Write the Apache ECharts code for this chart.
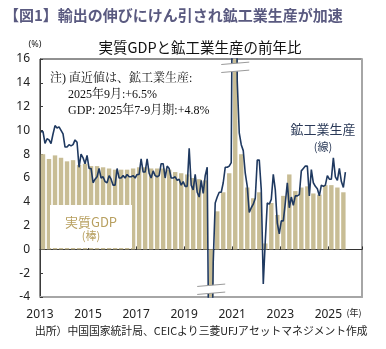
<!DOCTYPE html>
<html>
<head>
<meta charset="utf-8">
<script src="https://cdn.jsdelivr.net/npm/echarts@6/dist/echarts.min.js"></script>
<style>
html,body{margin:0;padding:0;background:#fff;}
#c{width:386px;height:349px;}
</style>
</head>
<body>
<div id="c"></div>
<script>
// Years on the axis (offset from 2013)
var startYear = 2013;
var yearLabels = ['2013','2015','2017','2019','2021','2023','2025'];
var yTicks = [-4,-2,0,2,4,6,8,10,12,14,16];

// Real GDP YoY (%), quarterly 2013Q1 - 2025Q3
var gdpQuarterly = [
  8.0,7.6,7.9,7.7,
  7.4,7.5,7.1,7.2,
  7.0,7.0,6.9,6.8,
  6.7,6.7,6.7,6.8,
  6.9,6.9,6.8,6.8,
  6.8,6.7,6.5,6.4,
  6.3,6.0,5.9,5.8,
  -6.8,3.2,4.8,6.4,
  18.3,8.0,5.2,4.3,
  4.8,0.5,3.9,2.9,
  4.5,6.3,4.9,5.2,
  5.3,4.7,4.6,5.4,
  5.4,5.2,4.8
];

// Industrial production YoY (%), monthly Jan 2013 - Sep 2025
var ipMonthly = [
  9.9,9.9,8.9,9.3,9.2,8.9,9.7,10.4,10.2,10.3,10.0,9.7,
  8.6,8.6,8.8,8.7,8.8,9.2,9.0,6.9,8.0,7.7,7.2,7.9,
  6.8,6.8,5.6,5.9,6.1,6.8,6.0,6.1,5.7,5.6,6.2,5.9,
  5.4,5.4,6.8,6.0,6.0,6.2,6.0,6.3,6.1,6.1,6.2,6.0,
  6.3,6.3,7.6,6.5,6.5,7.6,6.4,6.0,6.6,6.2,6.1,6.2,
  7.2,7.2,6.0,7.0,6.8,6.0,6.0,6.1,5.8,5.9,5.4,5.7,
  5.3,5.3,8.5,5.4,5.0,6.3,4.8,4.4,5.8,4.7,6.2,6.9,
  -13.5,-13.5,-1.1,3.9,4.4,4.8,4.8,5.6,6.9,6.9,7.0,7.3,
  35.1,35.1,14.1,9.8,8.8,8.3,6.4,5.3,3.1,3.5,3.8,4.3,
  7.5,7.5,5.0,-2.9,0.7,3.9,3.8,4.2,6.3,5.0,2.2,1.3,
  2.4,2.4,3.9,5.6,3.5,4.4,3.7,4.5,4.5,4.6,6.6,6.8,
  7.0,7.0,4.5,6.7,5.6,5.3,5.1,4.5,5.4,5.3,5.4,6.2,
  5.9,5.9,7.7,6.1,5.8,6.8,5.7,5.2,6.5
];

// Axis-break markers (quarter index, value where the break sits)
var breakQuarters = [32, 28];
var breakValues = [15.3, -3.35];

var gdpData = gdpQuarterly.map(function(v,i){ return [(i+0.5)/4, v]; });
var ipData = ipMonthly.map(function(v,i){ return [(i+0.5)/12, v]; });
var breakData = breakQuarters.map(function(q,i){ return [(q+0.5)/4, breakValues[i]]; });

var xMin = 0, xMax = 13.4;
function xLabel(v){
  var k = Math.round(v);
  if (Math.abs(v-k) > 1e-6 || k % 2 !== 0) return '';
  return yearLabels[k/2] || '';
}

var chart = echarts.init(document.getElementById('c'), null, {renderer:'canvas'});
var cjk = "'Noto Sans CJK JP', 'Noto Sans', sans-serif";
var serif = "'Liberation Serif', 'Noto Serif CJK JP', 'Noto Sans CJK JP', serif";

chart.setOption({
  animation:false,
  backgroundColor:'#fff',
  grid:{left:40, right:24, top:59, bottom:52, show:true, borderColor:'#222', borderWidth:1, backgroundColor:'transparent'},
  xAxis:[{
    type:'value', min:xMin, max:xMax, interval:2, position:'bottom',
    axisLine:{onZero:false, lineStyle:{color:'#a6a6a6', width:2}},
    axisTick:{show:false},
    splitLine:{show:false},
    axisLabel:{formatter:xLabel, color:'#222', fontSize:12, margin:12, fontFamily:"'Noto Sans', sans-serif", showMaxLabel:false}
  },{
    type:'value', min:xMin, max:xMax, interval:2, position:'top',
    axisLine:{onZero:true, lineStyle:{color:'#333', width:1}},
    axisTick:{show:true, length:3, inside:false, lineStyle:{color:'#333'}},
    axisLabel:{show:false},
    splitLine:{show:false}
  }],
  yAxis:[{
    type:'value', min:-4, max:16, interval:2, position:'left',
    axisLine:{show:true, onZero:false, lineStyle:{color:'#3a3a3a', width:1}},
    axisTick:{show:true, inside:true, length:3, lineStyle:{color:'#3a3a3a'}},
    splitLine:{show:false},
    axisLabel:{color:'#222', fontSize:12, margin:10, fontFamily:"'Noto Sans', sans-serif",
      formatter:function(v){ return yTicks.indexOf(v) >= 0 ? String(v) : ''; }}
  },{
    type:'value', min:-4, max:16, interval:2, position:'right',
    axisLine:{show:true, onZero:false, lineStyle:{color:'#a6a6a6', width:2}},
    axisTick:{show:false}, axisLabel:{show:false}, splitLine:{show:false}
  }],
  series:[{
    type:'bar', name:'実質GDP', xAxisIndex:0, yAxisIndex:0,
    data:gdpData, barWidth:4.4, itemStyle:{color:'#c8bd95'}, z:2
  },{
    type:'line', name:'鉱工業生産', xAxisIndex:0, yAxisIndex:0,
    data:ipData, showSymbol:false, symbol:'none',
    lineStyle:{color:'#1f3960', width:1.6}, z:3
  },{
    type:'custom', xAxisIndex:0, yAxisIndex:0, data:breakData, z:5, clip:false,
    renderItem:function(params, api){
      var c = api.coord([api.value(0), api.value(1)]);
      var hw = 14, hg = 4, sl = 1.2;
      var p1 = [c[0]-hw, c[1]-hg+sl], p2 = [c[0]+hw, c[1]-hg-sl];
      var p3 = [c[0]+hw, c[1]+hg-sl], p4 = [c[0]-hw, c[1]+hg+sl];
      return {type:'group', children:[
        {type:'polygon', shape:{points:[p1,p2,p3,p4]}, style:{fill:'#fff', stroke:null}},
        {type:'line', shape:{x1:p1[0],y1:p1[1],x2:p2[0],y2:p2[1]}, style:{stroke:'#9a9a9a', lineWidth:1}},
        {type:'line', shape:{x1:p4[0],y1:p4[1],x2:p3[0],y2:p3[1]}, style:{stroke:'#9a9a9a', lineWidth:1}}
      ]};
    }
  }],
  graphic:[
    {type:'text', x:4, y:15, z:100, style:{text:'【図1】輸出の伸びにけん引され鉱工業生産が加速', fill:'#5a5a80', font:"bold 15px 'Noto Sans CJK JP'", textVerticalAlign:'middle'}},
    {type:'text', x:200, y:47, z:100, style:{text:'実質GDPと鉱工業生産の前年比', fill:'#111', font:"14.5px 'Noto Sans CJK JP'", textAlign:'center', textVerticalAlign:'middle'}},
    {type:'text', x:35, y:44, z:100, style:{text:'(%)', fill:'#222', font:"9px 'Noto Sans'", textAlign:'center', textVerticalAlign:'middle'}},
    {type:'text', x:50, y:79, z:100, style:{text:'注) 直近値は、鉱工業生産:', fill:'#111', font:"12px " + serif, textVerticalAlign:'middle'}},
    {type:'text', x:68, y:94.5, z:100, style:{text:'2025年9月:+6.5%', fill:'#111', font:"12px " + serif, textVerticalAlign:'middle'}},
    {type:'text', x:68, y:111, z:100, style:{text:'GDP: 2025年7-9月期:+4.8%', fill:'#111', font:"12px " + serif, textVerticalAlign:'middle'}},
    {type:'text', x:323, y:129, z:100, style:{text:'鉱工業生産', fill:'#2b3a58', font:"13px 'Noto Sans CJK JP'", textAlign:'center', textVerticalAlign:'middle'}},
    {type:'text', x:323, y:147, z:100, style:{text:'(線)', fill:'#2b3a58', font:"11px 'Noto Sans CJK JP'", textAlign:'center', textVerticalAlign:'middle'}},
    {type:'rect', shape:{x:50, y:205, width:82, height:43}, z:100, style:{fill:'#fff'}},
    {type:'text', x:91, y:222, z:101, style:{text:'実質GDP', fill:'#b8a060', font:"13px 'Noto Sans CJK JP'", textAlign:'center', textVerticalAlign:'middle'}},
    {type:'text', x:91, y:236, z:101, style:{text:'(棒)', fill:'#b8a060', font:"11px 'Noto Sans CJK JP'", textAlign:'center', textVerticalAlign:'middle'}},
    {type:'text', x:354, y:313, z:100, style:{text:'(年)', fill:'#222', font:"9px 'Noto Sans CJK JP'", textAlign:'center', textVerticalAlign:'middle'}},
    {type:'text', x:35, y:331, z:100, style:{text:'出所）中国国家統計局、CEICより三菱UFJアセットマネジメント作成', fill:'#222', font:"10.8px 'Noto Sans CJK JP'", textVerticalAlign:'middle'}}
  ]
});
</script>
</body>
</html>
